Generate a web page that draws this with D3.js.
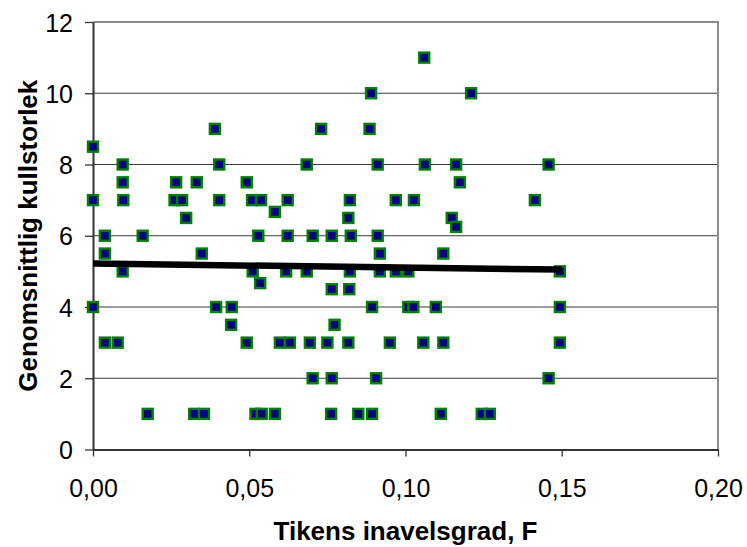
<!DOCTYPE html>
<html>
<head>
<meta charset="utf-8">
<script src="https://cdn.jsdelivr.net/npm/d3@7"></script>
<style>
    html, body { margin: 0; padding: 0; background: #fff; }
    svg { display: block; font-family: "Liberation Sans", Arial, sans-serif; }
</style>
</head>
<body>
<svg id="chart" width="747" height="547"></svg>
<script>
    "use strict";

    // inavelsgrad F per tik
    var inbreedingF = [
        0.106,
        0.089, 0.121,
        0.039, 0.073, 0.0885,
        0.000,
        0.0095, 0.0404, 0.0684, 0.0911, 0.1062, 0.1162, 0.1458,
        0.0095, 0.0266, 0.0332, 0.0492, 0.1174,
        0.000, 0.0097, 0.0261, 0.0285, 0.0404, 0.0509, 0.0538, 0.0623, 0.0822, 0.0969, 0.1027, 0.1414,
        0.0582,
        0.0298, 0.0817, 0.1148,
        0.1162,
        0.0038, 0.0159, 0.0529, 0.0623, 0.0703, 0.0764, 0.0825, 0.0911,
        0.0038, 0.0348, 0.0918, 0.1121,
        0.0095, 0.0511, 0.0618, 0.0684, 0.0822, 0.0918, 0.0969, 0.1009, 0.1494,
        0.0535,
        0.0764, 0.082,
        0.000, 0.0394, 0.0444, 0.0893, 0.1009, 0.1025, 0.1097, 0.1494,
        0.0442, 0.0773,
        0.0038, 0.0079, 0.0492, 0.0598, 0.063, 0.0694, 0.075, 0.0817, 0.095, 0.1057, 0.1121, 0.1494,
        0.0703, 0.0764, 0.0906, 0.1458,
        0.0175, 0.0324, 0.0355, 0.052, 0.054, 0.0582, 0.0762, 0.0849, 0.0893, 0.1113, 0.1244, 0.127
    ];

    // genomsnittlig kullstorlek
    var litterSize = [
        11,
        10, 10,
        9, 9, 9,
        8.5,
        8, 8, 8, 8, 8, 8, 8,
        7.5, 7.5, 7.5, 7.5, 7.5,
        7, 7, 7, 7, 7, 7, 7, 7, 7, 7, 7, 7,
        6.67,
        6.5, 6.5, 6.5,
        6.25,
        6, 6, 6, 6, 6, 6, 6, 6,
        5.5, 5.5, 5.5, 5.5,
        5, 5, 5, 5, 5, 5, 5, 5, 5,
        4.67,
        4.5, 4.5,
        4, 4, 4, 4, 4, 4, 4, 4,
        3.5, 3.5,
        3, 3, 3, 3, 3, 3, 3, 3, 3, 3, 3, 3,
        2, 2, 2, 2,
        1, 1, 1, 1, 1, 1, 1, 1, 1, 1, 1, 1
    ];

    // linjär trendlinje (ändpunkter)
    var trendF = [0, 0.15];
    var trendSize = [5.22, 5.05];

    var xTicks = [0, 0.05, 0.10, 0.15, 0.20];
    var yTicks = [0, 2, 4, 6, 8, 10, 12];

    var xTitle = "Tikens inavelsgrad, F";
    var yTitle = "Genomsnittlig kullstorlek";

    var points = inbreedingF.map(function (f, i) {
        return { f: f, size: litterSize[i] };
    });

    var margin = { left: 93, top: 22, right: 29, bottom: 97.5 };
    var W = 747, H = 547;

    var xScale = d3.scaleLinear().domain([0, 0.2]).range([margin.left, W - margin.right]);
    var yScale = d3.scaleLinear().domain([0, 12]).range([H - margin.bottom, margin.top]);

    var locale = d3.formatLocale({ decimal: ",", thousands: " ", grouping: [3], currency: ["", " kr"] });
    var fmtX = locale.format(".2f");

    var svg = d3.select("#chart");

    // stödlinjer
    svg.append("g")
        .selectAll("line")
        .data(yTicks.filter(function (t) { return t > 0 && t < 12; }))
        .enter()
        .append("line")
        .attr("x1", xScale(0))
        .attr("x2", xScale(0.2))
        .attr("y1", function (d) { return yScale(d); })
        .attr("y2", function (d) { return yScale(d); })
        .attr("stroke", "#3a3a3a")
        .attr("stroke-width", 1.2);

    // ram för diagramytan
    svg.append("path")
        .attr("d", "M" + xScale(0) + "," + yScale(12) + "H" + xScale(0.2) + "V" + yScale(0))
        .attr("fill", "none")
        .attr("stroke", "#8c8c8c")
        .attr("stroke-width", 2);

    var xAxis = svg.append("g")
        .attr("transform", "translate(0," + yScale(0) + ")")
        .call(d3.axisBottom(xScale).tickValues(xTicks).tickFormat(fmtX).tickSize(7).tickSizeOuter(0));

    var yAxis = svg.append("g")
        .attr("transform", "translate(" + xScale(0) + ",0)")
        .call(d3.axisLeft(yScale).tickValues(yTicks).tickFormat(d3.format("d")).tickSize(8).tickSizeOuter(0));

    [xAxis, yAxis].forEach(function (ax) {
        ax.select(".domain").attr("stroke", "#333").attr("stroke-width", 2);
        ax.selectAll(".tick line").attr("stroke", "#333").attr("stroke-width", 1.3);
        ax.selectAll(".tick text")
            .attr("fill", "#000")
            .attr("font-size", 25)
            .attr("font-family", "Liberation Sans, Arial, sans-serif");
    });
    // etiketter under x-axeln, baslinje ca 47 px under axeln
    xAxis.selectAll(".tick text").attr("dy", null).attr("y", 47.5);
    yAxis.selectAll(".tick text").attr("x", -20).attr("dy", "0.36em");

    // datapunkter
    svg.append("g")
        .selectAll("rect")
        .data(points)
        .enter()
        .append("rect")
        .attr("x", function (d) { return xScale(d.f) - 5; })
        .attr("y", function (d) { return yScale(d.size) - 5; })
        .attr("width", 10)
        .attr("height", 10)
        .attr("fill", "#000080")
        .attr("stroke", "#008000")
        .attr("stroke-width", 2.4);

    // trendlinje
    svg.append("line")
        .attr("x1", xScale(trendF[0]))
        .attr("x2", xScale(trendF[1]))
        .attr("y1", yScale(trendSize[0]))
        .attr("y2", yScale(trendSize[1]))
        .attr("stroke", "#000")
        .attr("stroke-width", 6.5);

    // axeltitlar
    svg.append("text")
        .attr("x", (xScale(0) + xScale(0.2)) / 2)
        .attr("y", 540)
        .attr("text-anchor", "middle")
        .attr("font-size", 26)
        .attr("font-weight", "bold")
        .text(xTitle);

    svg.append("text")
        .attr("transform", "translate(37," + (yScale(0) + yScale(12)) / 2 + ") rotate(-90)")
        .attr("text-anchor", "middle")
        .attr("font-size", 26)
        .attr("font-weight", "bold")
        .text(yTitle);
</script>
</body>
</html>
